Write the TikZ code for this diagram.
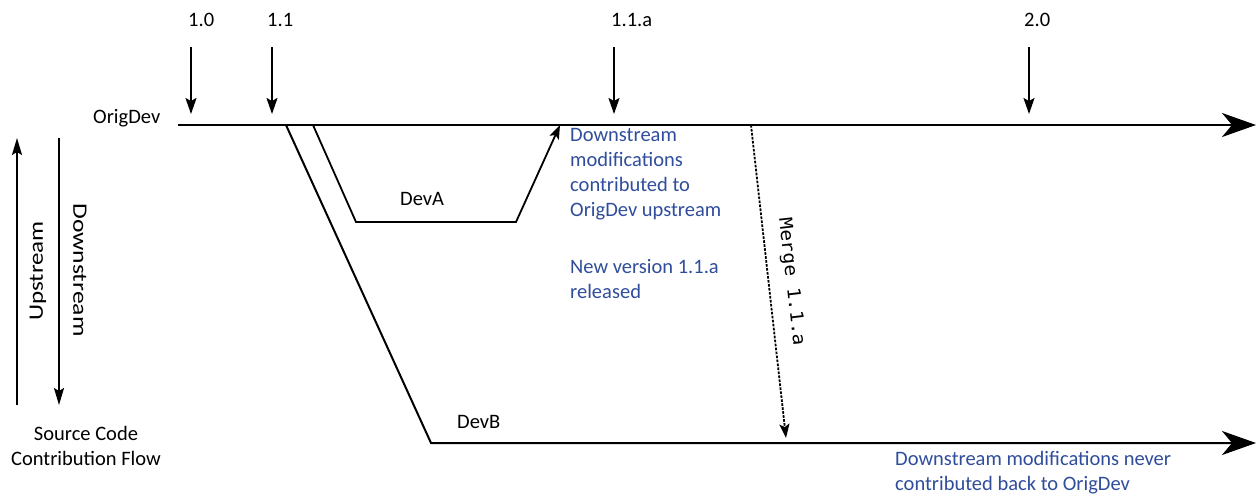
\documentclass[tikz,border=0pt]{standalone}
\usepackage{fontspec}
\setmainfont{Carlito}
\newfontfamily\mergefont{DejaVu Sans Mono}
\usetikzlibrary{arrows.meta}
\definecolor{noteblue}{RGB}{47,77,155}
\begin{document}
\begin{tikzpicture}[x=1pt,y=-1pt,
  lbl/.style={font=\fontsize{20.5}{25}\selectfont, inner sep=0pt},
  note/.style={lbl, text=noteblue, align=left, anchor=north west},
  branch/.style={line width=1.8pt, line join=miter},
  mainline/.style={line width=2.2pt},
  verarrow/.style={-{Stealth[length=16pt,width=11pt,inset=3pt]}, line width=1.8pt},
  bigarrow/.style={-{Stealth[length=34pt,width=24pt,inset=10pt]}},
  smallhead/.style={-{Stealth[length=14pt,width=10pt,inset=3pt]}},
]
\path[use as bounding box] (0,0) rectangle (1258,498);

% coordinates
\coordinate (o0) at (178,125);
\coordinate (oEnd) at (1256,125);
\coordinate (bA) at (286,125);
\coordinate (bB) at (431,443);
\coordinate (bEnd) at (1256,443);
\coordinate (aS) at (313,125);
\coordinate (a1) at (356,222);
\coordinate (a2) at (516,222);
\coordinate (aE) at (560,125);
\coordinate (mS) at (751,125);
\coordinate (mE) at (786,438);

% version labels and arrows
\node[lbl, anchor=base west] (v10) at (188,26.5) {1.0};
\node[lbl, anchor=base west] (v11) at (267,26.5) {1.1};
\node[lbl, anchor=base west] (v11a) at (611,26.5) {1.1.a};
\node[lbl, anchor=base west] (v20) at (1024,26.5) {2.0};
\coordinate (t10) at (191,47);   \coordinate (h10) at (191,114);
\coordinate (t11) at (272,47);   \coordinate (h11) at (272,114);
\coordinate (t11a) at (614,47);  \coordinate (h11a) at (614,114);
\coordinate (t20) at (1029,47);  \coordinate (h20) at (1029,114);
\draw[verarrow] (t10) -- (h10);
\draw[verarrow] (t11) -- (h11);
\draw[verarrow] (t11a) -- (h11a);
\draw[verarrow] (t20) -- (h20);

% main line
\node[lbl, anchor=base west] (orig) at (93,123.5) {OrigDev};
\draw[mainline, bigarrow] (o0) -- (oEnd);

% DevA branch
\draw[branch, smallhead] (aS) -- (a1) -- (a2) -- (aE);
\node[lbl, anchor=base west] (devA) at (400,205) {DevA};

% DevB branch
\draw[branch, line width=2pt, bigarrow] (bA) -- (bB) -- (bEnd);
\node[lbl, anchor=base west] (devB) at (457,428.5) {DevB};

% merge
\draw[line width=1.8pt, dash pattern=on 2.6pt off 1.4pt, smallhead] (mS) -- (mE);
\node[inner sep=0pt, rotate=-83.4, font=\mergefont\fontsize{18}{20}\selectfont] (merge) at (791,282) {\scalebox{1.08}[1]{Merge 1.1.a}};

% blue notes
\node[note] (noteA) at (570,128) {Downstream\\modifications\\contributed to\\OrigDev upstream};
\node[note] (noteB) at (570,259) {New version 1.1.a\\released};
\node[note] (noteC) at (895,451) {Downstream modifications never\\contributed back to OrigDev};

% left legend
\coordinate (uB) at (17,405); \coordinate (uT) at (17,138);
\coordinate (dT) at (59,138); \coordinate (dB) at (59,405);
\draw[line width=1.8pt, -{Stealth[length=17pt,width=10pt,inset=3pt]}] (uB) -- (uT);
\draw[line width=1.8pt, -{Stealth[length=17pt,width=10pt,inset=3pt]}] (dT) -- (dB);
\node[lbl, rotate=90] (up) at (38,271) {\scalebox{1.22}[1]{Upstream}};
\node[lbl, rotate=-90] (down) at (80,270) {\scalebox{1.25}[1]{Downstream}};
\node[lbl, align=center] (flow) at (86,446) {Source Code\\Contribution Flow};
\end{tikzpicture}
\end{document}
